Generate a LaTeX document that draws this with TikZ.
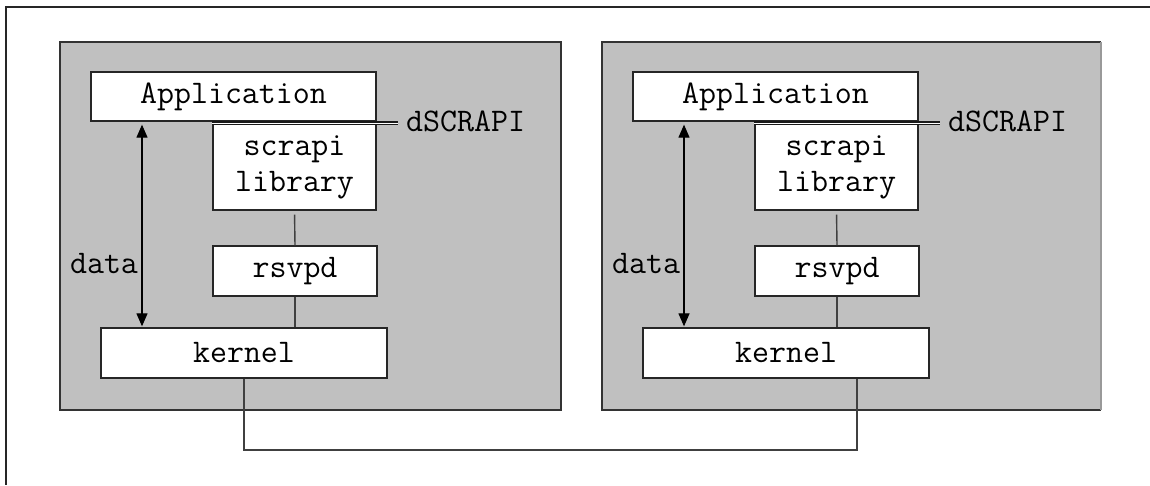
\documentclass[tikz,border=0pt]{standalone}
\usepackage{fontspec}
\usetikzlibrary{arrows.meta}
\definecolor{panelgray}{RGB}{192,192,192}
\tikzset{
  txt/.style={font=\ttfamily\fontsize{33}{36}\selectfont},
  box/.style={txt, draw=black!85, fill=white, line width=1.3pt, inner sep=0pt, align=center},
  lbl/.style={txt, inner sep=0pt},
  conn/.style={draw=black!75, line width=1.4pt},
  iface/.style={draw=black!90, double=white, double distance=1pt, line width=1.3pt},
  dataarrow/.style={draw=black, line width=1.2pt, {Triangle[length=13pt,width=11pt]}-{Triangle[length=13pt,width=11pt]}},
}
\begin{document}
\begin{tikzpicture}[x=1pt,y=-1pt]
\useasboundingbox (0,0) rectangle (1150,485);
% outer frame (top and left)
\draw[line width=1.6pt, black!85] (1150,7) -- (6,7) -- (6,485);

% panels
\fill[panelgray] (60,42) rectangle (561,410);
\draw[line width=1.6pt, black!80] (60,42) rectangle (561,410);
\fill[panelgray] (602,42) rectangle (1101,410);
\draw[line width=1.6pt, black!80] (1101,42) -- (602,42) -- (602,410) -- (1101,410);
\draw[line width=1.6pt, black!40] (1101,42) -- (1101,410);

% left panel nodes
\node[box, minimum width=285pt, minimum height=49pt] (appL) at (233.5,96.5) {Application};
\node[box, minimum width=163pt, minimum height=86pt] (libL) at (294.5,167) {scrapi\\library};
\node[box, minimum width=164pt, minimum height=50pt] (rsvL) at (295,271) {rsvpd};
\node[box, minimum width=286pt, minimum height=50pt] (kerL) at (244,353) {kernel};
\node[lbl, anchor=west] (apiL) at (406,121) {dSCRAPI};
\node[lbl] (dataL) at (104,264) {data};

% right panel nodes
\node[box, minimum width=285pt, minimum height=49pt] (appR) at (775.5,96.5) {Application};
\node[box, minimum width=163pt, minimum height=86pt] (libR) at (836.5,167) {scrapi\\library};
\node[box, minimum width=164pt, minimum height=50pt] (rsvR) at (837,271) {rsvpd};
\node[box, minimum width=286pt, minimum height=50pt] (kerR) at (786,353) {kernel};
\node[lbl, anchor=west] (apiR) at (948,121) {dSCRAPI};
\node[lbl] (dataR) at (646,264) {data};

% interface double lines
\coordinate (ifL) at (398,123);
\coordinate (ifR) at (940,123);
\draw[iface] (libL.west |- ifL) -- (ifL);
\draw[iface] (libR.west |- ifR) -- (ifR);

% vertical connectors
\draw[conn, shorten <=4pt] (libL.south) -- (rsvL.north);
\draw[conn] (rsvL.south) -- (rsvL.south |- kerL.north);
\draw[conn, shorten <=4pt] (libR.south) -- (rsvR.north);
\draw[conn] (rsvR.south) -- (rsvR.south |- kerR.north);

% data arrows
\coordinate (dxL) at (142,0);
\coordinate (dxR) at (684,0);
\draw[dataarrow, shorten <=3pt, shorten >=1pt] (dxL |- appL.south) -- (dxL |- kerL.north);
\draw[dataarrow, shorten <=3pt, shorten >=1pt] (dxR |- appR.south) -- (dxR |- kerR.north);

% network link between kernels
\coordinate (link) at (857,450);
\draw[conn] (kerL.south) |- (link) -- (link |- kerR.south);
\end{tikzpicture}
\end{document}
